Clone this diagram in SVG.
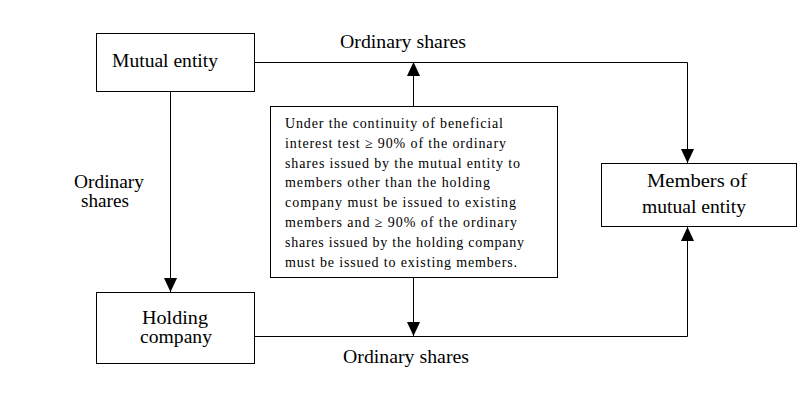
<svg xmlns="http://www.w3.org/2000/svg" width="811" height="402" viewBox="0 0 811 402">
<style>
.box{fill:#fff;stroke:#000;stroke-width:1}
.ln{fill:none;stroke:#000;stroke-width:1}
.t{font-family:"Liberation Serif","Times New Roman",serif;font-size:19px;fill:#000}
.n{font-family:"Liberation Serif","Times New Roman",serif;font-size:14px;fill:#000}
</style>
<defs>
<marker id="ah" markerUnits="userSpaceOnUse" markerWidth="14" markerHeight="16" viewBox="0 0 15 14" refX="15" refY="7" orient="auto">
<path d="M0,0 L15,7 L0,14 Z" fill="#000"/>
</marker>
</defs>
<rect width="811" height="402" fill="#fff"/>
<g id="connectors">
<path class="ln" d="M255,62.5 H687.5 V163" marker-end="url(#ah)"/>
<path class="ln" d="M170.5,91 V292" marker-end="url(#ah)"/>
<path class="ln" d="M255,336.5 H687.5 V227" marker-end="url(#ah)"/>
<path class="ln" d="M413.5,106 V62" marker-end="url(#ah)"/>
<path class="ln" d="M413.5,278 V336" marker-end="url(#ah)"/>
<text class="t" x="340" y="48" textLength="126" lengthAdjust="spacingAndGlyphs">Ordinary shares</text>
<text class="t" x="343" y="363" textLength="126" lengthAdjust="spacingAndGlyphs">Ordinary shares</text>
<text class="t" x="74" y="188" textLength="70" lengthAdjust="spacingAndGlyphs">Ordinary</text>
<text class="t" x="81" y="207" textLength="48" lengthAdjust="spacingAndGlyphs">shares</text>
</g>
<g id="mutual-entity">
<rect class="box" x="96.5" y="33.5" width="158" height="58"/>
<text class="t" x="112" y="67" textLength="106" lengthAdjust="spacingAndGlyphs">Mutual entity</text>
</g>
<g id="holding-company">
<rect class="box" x="96.5" y="292.5" width="158" height="71"/>
<text class="t" x="142" y="324" textLength="66" lengthAdjust="spacingAndGlyphs">Holding</text>
<text class="t" x="140" y="343" textLength="72" lengthAdjust="spacingAndGlyphs">company</text>
</g>
<g id="members">
<rect class="box" x="601.5" y="163.5" width="195" height="63"/>
<text class="t" x="647" y="187" textLength="100" lengthAdjust="spacingAndGlyphs">Members of</text>
<text class="t" x="642" y="213" textLength="104" lengthAdjust="spacingAndGlyphs">mutual entity</text>
</g>
<g id="note">
<rect class="box" x="270.5" y="106.5" width="287" height="171"/>
<text class="n" x="285" y="128" textLength="218" lengthAdjust="spacing">Under the continuity of beneficial</text>
<text class="n" x="285" y="148" textLength="221" lengthAdjust="spacing">interest test ≥ 90% of the ordinary</text>
<text class="n" x="285" y="168" textLength="235" lengthAdjust="spacing">shares issued by the mutual entity to</text>
<text class="n" x="285" y="187" textLength="205" lengthAdjust="spacing">members other than the holding</text>
<text class="n" x="285" y="207" textLength="231" lengthAdjust="spacing">company must be issued to existing</text>
<text class="n" x="285" y="227" textLength="232" lengthAdjust="spacing">members and ≥ 90% of the ordinary</text>
<text class="n" x="285" y="247" textLength="239" lengthAdjust="spacing">shares issued by the holding company</text>
<text class="n" x="285" y="267" textLength="232" lengthAdjust="spacing">must be issued to existing members.</text>
</g>
</svg>
